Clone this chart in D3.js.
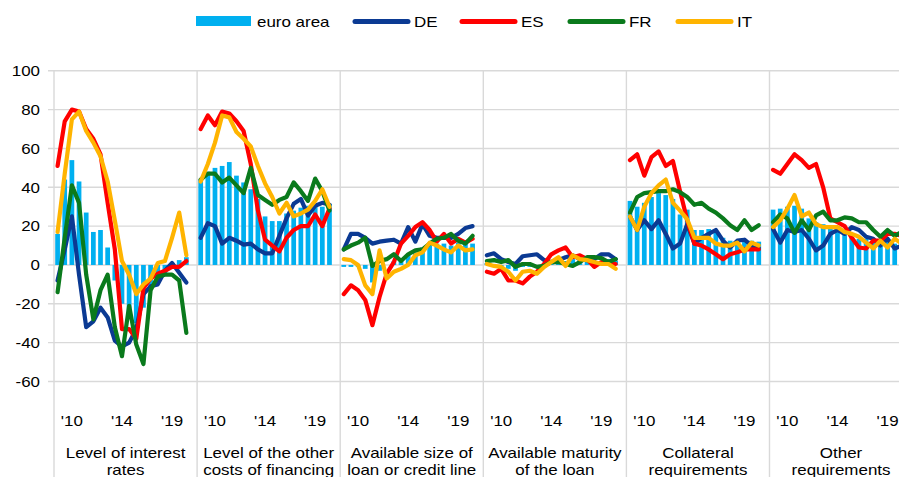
<!DOCTYPE html>
<html>
<head>
<meta charset="utf-8">
<script src="https://cdn.jsdelivr.net/npm/d3@7"></script>
<style>
  body { margin: 0; background: #fff; }
  text { font-family: "Liberation Sans", Arial, sans-serif; font-size: 15px; fill: #000; }
</style>
</head>
<body>
<div class="chart"></div>
<script>
var w = 899,
  h = 477;

// panel titles, two lines each
var categories = [
  ['Level of interest', 'rates'],
  ['Level of the other', 'costs of financing'],
  ['Available size of', 'loan or credit line'],
  ['Available maturity', 'of the loan'],
  ['Collateral', 'requirements'],
  ['Other', 'requirements']
];

// survey waves, one label shown every 7 waves
var waveLabels = ['', '', "'10", '', '', '', '', '', '', "'14", '', '', '', '', '', '', "'19", '', ''];

var yTicks = [-60, -40, -20, 0, 20, 40, 60, 80, 100];

// net percentages, one array per panel
var euroArea = [
  [16, 44, 54, 43, 27, 17, 18, 9, -8, -20, -25, -30, -22, -12, -7, -5, 1, 2.5, 4],
  [44, 48, 50, 51, 53, 46, 42.5, 39, 34, 25, 22.6, 22.6, 26.5, 28, 29.5, 30.5, 31, 30, 31.5],
  [-1, -1, -1, -2, -9, -3, 0, 2, 3, 5, 7, 9, 11, 11, 11, 10, 11.5, 11, 11],
  [1, 0, -1, -2, -3, -1, -1, 0, 0, 1, 2, 2, 3, 3, 2, 2, 2, 3, 2],
  [33, 30, 32, 35, 37, 36, 34, 26, 28.5, 18, 18, 18.5, 17, 14, 12.5, 12.5, 13, 12.5, 12],
  [28.5, 29, 30, 30.5, 29, 24, 22, 21, 19.5, 18, 16, 14.5, 13.5, 13.5, 12.5, 12, 12, 11, 11]
];

var de = [
  [-8, 8, 25, -5, -32, -29, -22, -27, -39, -42, -40, -33, -15, -11, -10, -3, 1, -4, -9],
  [14, 21.5, 20, 11, 14, 12.5, 10.5, 11, 8, 6, 6, 15, 24, 31.5, 34, 25.5, 30.5, 32, 31],
  [8, 16, 16, 14, 11, 12, 12.5, 13, 11, 19.5, 12, 21, 15, 14, 14, 14, 16, 19, 20],
  [5, 6, 3, 1.5, 0.5, 4.5, 5, 5.5, 2.5, 1.5, 2.5, 4, 5, 3, 2.5, 3, 5.5, 5.5, 3],
  [25, 18, 23, 18.5, 23, 16, 8.5, 11, 21, 11, 14, 16, 18, 12.5, 9, 12.5, 13, 10, 8.5],
  [18.5, 11.5, 18, 17, 18, 13.5, 7.5, 10, 16, 18, 16, 19.5, 18, 14.5, 13.5, 10, 13.5, 8.5, 10]
];

var es = [
  [51, 74, 80, 79, 70, 65, 57, 32, 8, -33, -33, -38, -12, -7, -4.5, -3, -1, -1, 2],
  [70, 77, 72, 79, 78, 74, 69, 52, 28, 13, 10, 7, 14, 18, 20, 20, 26, 20, 29],
  [-15, -10.5, -13, -18, -31, -16.5, -4.5, 1.5, 11, 15, 19.5, 22, 18, 12, 16, 11, 13.5, 11.5, 13.5],
  [-3.5, -4.5, -2, -8, -8, -9.5, -6, -3.5, 0.5, 5.5, 7.5, 9, 4, 5, 3, -1, 1.5, 0.5, 0.5],
  [54, 57, 46, 55.5, 58.5, 51, 53.5, 38, 23, 11, 10, 8, 5.5, 3, 5.5, 6.5, 8, 8, 8],
  [49, 47, 52, 57, 54, 50, 52, 40, 24, 22, 20, 14, 9, 8.5, 12.5, 12.5, 16, 16, 15]
];

var fr = [
  [-14, 14, 41, 32, -5, -28, -13, -5, -32, -47, -21, -41, -51, -13, -6, -5, -5, -8, -35],
  [44, 47, 47, 42.5, 45, 41, 37, 50, 36, 33.5, 31, 33.5, 35, 42.5, 38, 33, 44.5, 38, 28],
  [8, 10, 11.5, 14, -0.5, 2, 3, 5.5, 2, 5.5, 7.5, 8, 11, 13.5, 14, 16, 12.5, 11, 15],
  [2, 2.5, 1.5, 2.5, -1, 0.5, 0.5, -1, -0.5, 1.5, 1.5, 0.5, -0.5, 1.5, 4, 4, 3.5, 1.5, 3],
  [27, 35, 37, 37.5, 38, 38, 39, 37.5, 35, 31, 32, 29, 27, 24, 20.5, 18, 23, 18, 20.5],
  [22, 26, 24, 16.5, 23, 18, 25.5, 27.5, 23, 23, 24.5, 24, 22, 22, 18, 14.5, 18, 15, 17]
];

var it = [
  [17, 47, 75, 79, 69, 63, 56, 43, 23, 2, -5, -15, -10, -7, 1, 2, 14, 27, 5],
  [43, 52, 63, 77, 76, 68.5, 65, 61, 51, 42, 35, 26.5, 32, 25, 26.5, 28.5, 33, 39, 30],
  [3, 2.5, 0, -10.5, -15, 7.5, -7, -3.5, -2, 0, 5, 6.5, 11.5, 10, 8, 6.5, 10, 7.5, 8],
  [0.5, -0.5, -1, -3.5, -8, -3.5, -3, -4.5, -1, 1.5, 4, -0.5, 5, 3, 2.5, 1.5, 0.5, 0.5, -2],
  [25, 18, 30, 37, 41, 44, 32, 28, 23.5, 14, 14, 14, 11, 10, 10, 11.5, 7, 11.5, 10],
  [19.5, 23, 29, 36, 25, 27, 21, 19.5, 19.5, 19.5, 17, 16, 14.5, 11.5, 8.5, 12.5, 9, 13.5, 11]
];

var series = [
  { name: 'DE', values: de, color: '#0b3a93' },
  { name: 'ES', values: es, color: '#ff0000' },
  { name: 'FR', values: fr, color: '#0a7a1c' },
  { name: 'IT', values: it, color: '#ffb400' }
];
var barColor = '#00b0f0',
  gridColor = '#d9d9d9',
  stretch = 1.13; // text in the source is a bit wider than tall

var svg = d3.select('.chart')
  .append('svg')
  .attr('width', w)
  .attr('height', h)
  .style('display', 'block');

// helper for the (slightly stretched) labels
var addText = function (g, x, y, str, anchor) {
  return g.append('text')
    .attr('transform', 'translate(' + x + ',' + y + ') scale(' + stretch + ',1)')
    .attr('text-anchor', anchor)
    .text(str);
}

// scales
var y = d3.scaleLinear().domain([-80, 100]).range([420.3, 70.8]);
var panel = d3.scaleBand().domain(d3.range(categories.length)).range([54, 54 + 6 * 143.1]);
// one empty wave slot between panels
var wave = d3.scaleBand().domain(d3.range(waveLabels.length + 1)).range([0, panel.bandwidth()]);
var cx = function (i) { return wave(i) + wave.bandwidth() / 2; };
var barW = wave.bandwidth() * 0.66;

// grid
svg.append('g').selectAll('line')
  .data(yTicks)
  .enter().append('line')
  .attr('x1', 48).attr('x2', w)
  .attr('y1', function (d) { return y(d); })
  .attr('y2', function (d) { return y(d); })
  .attr('stroke', gridColor)
  .attr('stroke-width', 1.4);

svg.append('g').selectAll('line')
  .data(d3.range(categories.length))
  .enter().append('line')
  .attr('x1', function (d) { return panel(d); })
  .attr('x2', function (d) { return panel(d); })
  .attr('y1', y(100)).attr('y2', h)
  .attr('stroke', gridColor)
  .attr('stroke-width', 1.4);

// y labels
var yAxis = svg.append('g');
yTicks.forEach(function (t) {
  addText(yAxis, 40, y(t) + 5.3, String(t), 'end');
});

// panels
var line = d3.line()
  .x(function (d, i) { return cx(i); })
  .y(function (d) { return y(d); });

categories.forEach(function (cat, p) {
  var g = svg.append('g').attr('transform', 'translate(' + panel(p) + ',0)');

  g.selectAll('rect')
    .data(euroArea[p])
    .enter().append('rect')
    .attr('x', function (d, i) { return cx(i) - barW / 2; })
    .attr('width', barW)
    .attr('y', function (d) { return y(Math.max(0, d)); })
    .attr('height', function (d) { return Math.abs(y(d) - y(0)); })
    .attr('fill', barColor);

  series.forEach(function (s) {
    g.append('path')
      .attr('d', line(s.values[p]))
      .attr('fill', 'none')
      .attr('stroke', s.color)
      .attr('stroke-width', 4.2)
      .attr('stroke-linejoin', 'round')
      .attr('stroke-linecap', 'round');
  });

  waveLabels.forEach(function (lab, i) {
    if (lab) addText(g, cx(i), 426, lab, 'middle');
  });

  addText(g, panel.bandwidth() / 2, 458.3, cat[0], 'middle');
  addText(g, panel.bandwidth() / 2, 474.5, cat[1], 'middle');
});

// legend
var legend = svg.append('g');
legend.append('rect')
  .attr('x', 196).attr('y', 16)
  .attr('width', 55).attr('height', 10)
  .attr('fill', barColor);
addText(legend, 257, 27, 'euro area', 'start');

var legendX = [353, 460, 568, 676];
series.forEach(function (s, k) {
  legend.append('line')
    .attr('x1', legendX[k] + 2).attr('x2', legendX[k] + 55)
    .attr('y1', 21.5).attr('y2', 21.5)
    .attr('stroke', s.color)
    .attr('stroke-width', 5)
    .attr('stroke-linecap', 'round');
  addText(legend, legendX[k] + 61, 27, s.name, 'start');
});
</script>
</body>
</html>
